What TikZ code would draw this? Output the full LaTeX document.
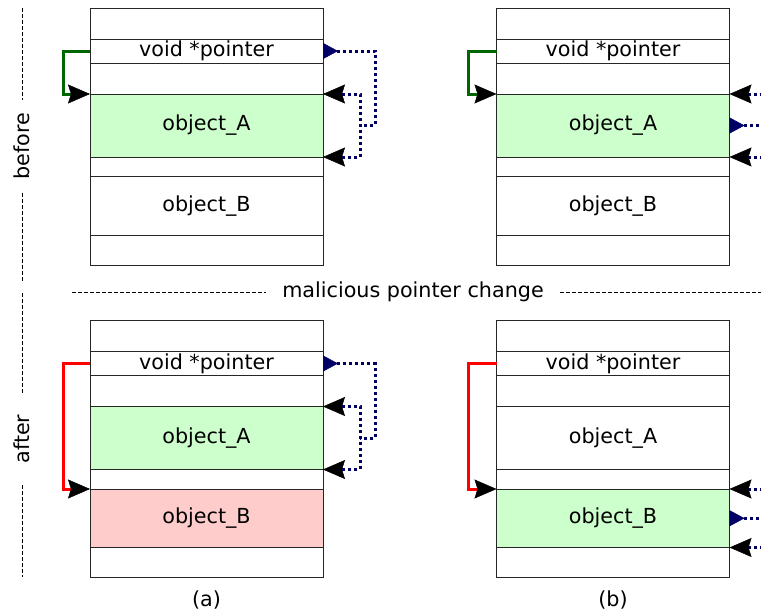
\documentclass[tikz,border=0pt]{standalone}
\usepackage{fontspec}
\setmainfont{DejaVu Sans}
\usetikzlibrary{positioning,arrows.meta,calc}

\definecolor{linkgreen}{RGB}{0,102,0}
\definecolor{linkred}{RGB}{255,0,0}
\definecolor{linknavy}{RGB}{0,0,102}
\definecolor{fillgreen}{RGB}{204,255,204}
\definecolor{fillred}{RGB}{255,204,204}

\tikzset{
  cell/.style={draw=black!85, line width=1pt, minimum width=233pt, inner sep=0pt, outer sep=0pt},
  ptrlink/.style={line width=3pt, ->},
  reflink/.style={linknavy, line width=3pt, dash pattern=on 3pt off 3pt},
  reftail/.style={{Triangle[reversed,length=15pt,width=16pt,line width=0.5pt]}-},
  sepline/.style={line width=1pt, dash pattern=on 4pt off 2pt},
  sidelabel/.style={rotate=90, minimum width=92pt, inner sep=0pt}
}

\begin{document}
\begin{tikzpicture}[x=1pt,y=-1pt,font=\fontsize{20.7}{24}\selectfont,
    >={Stealth[length=22pt,width=19pt,inset=3pt,line width=0.5pt,color=black]}]
    \useasboundingbox (0,0) rectangle (761,613);
    % (a) before
    \node[cell, anchor=north, minimum height=31pt] (abefore-top) at (206.5,8) {};
    \node[cell, minimum height=24pt, below=0pt of abefore-top] (abefore-ptr) {void *pointer};
    \node[cell, minimum height=31pt, below=0pt of abefore-ptr] (abefore-gap1) {};
    \node[cell, minimum height=63pt, fill=fillgreen, below=0pt of abefore-gap1] (abefore-objA) {object\_A};
    \node[cell, minimum height=19.5pt, below=0pt of abefore-objA] (abefore-gap2) {};
    \node[cell, minimum height=58.5pt, below=0pt of abefore-gap2] (abefore-objB) {object\_B};
    \node[cell, minimum height=30pt, below=0pt of abefore-objB] (abefore-bottom) {};
    % (b) before
    \node[cell, anchor=north, minimum height=31pt] (bbefore-top) at (613,8) {};
    \node[cell, minimum height=24pt, below=0pt of bbefore-top] (bbefore-ptr) {void *pointer};
    \node[cell, minimum height=31pt, below=0pt of bbefore-ptr] (bbefore-gap1) {};
    \node[cell, minimum height=63pt, fill=fillgreen, below=0pt of bbefore-gap1] (bbefore-objA) {object\_A};
    \node[cell, minimum height=19.5pt, below=0pt of bbefore-objA] (bbefore-gap2) {};
    \node[cell, minimum height=58.5pt, below=0pt of bbefore-gap2] (bbefore-objB) {object\_B};
    \node[cell, minimum height=30pt, below=0pt of bbefore-objB] (bbefore-bottom) {};
    % (a) after
    \node[cell, anchor=north, minimum height=31pt] (aafter-top) at (206.5,320.5) {};
    \node[cell, minimum height=24pt, below=0pt of aafter-top] (aafter-ptr) {void *pointer};
    \node[cell, minimum height=31pt, below=0pt of aafter-ptr] (aafter-gap1) {};
    \node[cell, minimum height=63pt, fill=fillgreen, below=0pt of aafter-gap1] (aafter-objA) {object\_A};
    \node[cell, minimum height=19.5pt, below=0pt of aafter-objA] (aafter-gap2) {};
    \node[cell, minimum height=58.5pt, fill=fillred, below=0pt of aafter-gap2] (aafter-objB) {object\_B};
    \node[cell, minimum height=30pt, below=0pt of aafter-objB] (aafter-bottom) {};
    % (b) after
    \node[cell, anchor=north, minimum height=31pt] (bafter-top) at (613,320.5) {};
    \node[cell, minimum height=24pt, below=0pt of bafter-top] (bafter-ptr) {void *pointer};
    \node[cell, minimum height=31pt, below=0pt of bafter-ptr] (bafter-gap1) {};
    \node[cell, minimum height=63pt, below=0pt of bafter-gap1] (bafter-objA) {object\_A};
    \node[cell, minimum height=19.5pt, below=0pt of bafter-objA] (bafter-gap2) {};
    \node[cell, minimum height=58.5pt, fill=fillgreen, below=0pt of bafter-gap2] (bafter-objB) {object\_B};
    \node[cell, minimum height=30pt, below=0pt of bafter-objB] (bafter-bottom) {};
    % pointers, before
    \draw[ptrlink, linkgreen] (abefore-ptr.west) -- ++(-27,0) |- (abefore-objA.north west);
    \draw[reflink, reftail] (abefore-ptr.east) -- ++(52,0) |- ($(abefore-objA.east)+(37,0)$);
    \draw[reflink, <->] (abefore-objA.north east) -| ($(abefore-objA.south east)+(37,0)$) -- (abefore-objA.south east);
    \draw[ptrlink, linkgreen] (bbefore-ptr.west) -- ++(-28,0) |- (bbefore-objA.north west);
    \draw[reflink, <-] (bbefore-objA.north east) -- ++(32,0);
    \draw[reflink, reftail] (bbefore-objA.east) -- ++(32,0);
    \draw[reflink, <-] (bbefore-objA.south east) -- ++(32,0);
    % pointers, after
    \draw[ptrlink, linkred] (aafter-ptr.west) -- ++(-27,0) |- (aafter-objB.north west);
    \draw[reflink, reftail] (aafter-ptr.east) -- ++(52,0) |- ($(aafter-objA.east)+(37,0)$);
    \draw[reflink, <->] (aafter-objA.north east) -| ($(aafter-objA.south east)+(37,0)$) -- (aafter-objA.south east);
    \draw[ptrlink, linkred] (bafter-ptr.west) -- ++(-28,0) |- (bafter-objB.north west);
    \draw[reflink, <-] (bafter-objB.north east) -- ++(32,0);
    \draw[reflink, reftail] (bafter-objB.east) -- ++(32,0);
    \draw[reflink, <-] (bafter-objB.south east) -- ++(32,0);
    % captions and separators
    \node (alabel) at (206.5,600) {(a)};
    \node (blabel) at (613,600) {(b)};
    \node[sidelabel] (before) at (22,146.5) {before};
    \coordinate (before-start) at (22,8);
    \coordinate (before-end) at (22,282);
    \draw[sepline] (before-start) -- (before.east);
    \draw[sepline] (before.west) -- (before-end);
    \node[sidelabel] (after) at (22,439) {after};
    \coordinate (after-start) at (22,293);
    \coordinate (after-end) at (22,577);
    \draw[sepline] (after-start) -- (after.east);
    \draw[sepline] (after.west) -- (after-end);
    \node[inner xsep=16pt] (change) at (413,292) {malicious pointer change};
    \coordinate (change-start) at (72,292);
    \coordinate (change-end) at (761,292);
    \draw[sepline] (change-start) -- (change.west);
    \draw[sepline] (change.east) -- (change-end);
\end{tikzpicture}
\end{document}
